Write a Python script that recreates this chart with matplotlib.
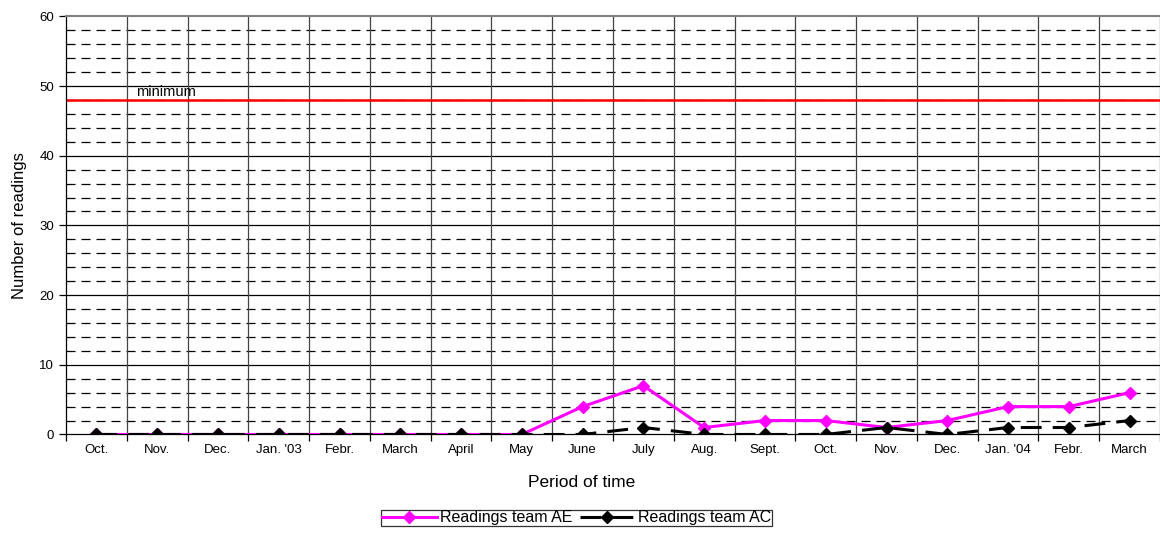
import numpy as np
import matplotlib
matplotlib.use('Agg')
import matplotlib.pyplot as plt
from matplotlib.ticker import MultipleLocator, FixedLocator

plt.rcParams['font.family'] = ['Liberation Sans', 'DejaVu Sans']
plt.rcParams['lines.scale_dashes'] = False

# Месяцы наблюдений
months = ['Oct.', 'Nov.', 'Dec.', "Jan. '03", 'Febr.', 'March', 'April', 'May',
          'June', 'July', 'Aug.', 'Sept.', 'Oct.', 'Nov.', 'Dec.', "Jan. '04",
          'Febr.', 'March']

# Число показаний по командам
readings_ae = [0, 0, 0, 0, 0, 0, 0, 0, 4, 7, 1, 2, 2, 1, 2, 4, 4, 6]
readings_ac = [0, 0, 0, 0, 0, 0, 0, 0, 0, 1, 0, 0, 0, 1, 0, 1, 1, 2]

minimum_level = 48

fig = plt.figure(figsize=(11.6, 5.49), dpi=100)
ax = fig.add_axes([0.0569, 0.2086, 0.9431, 0.7617])

x = np.arange(len(months))

# Сетка: основные линии каждые 10, пунктир каждые 2
for yv in range(2, 60, 2):
    if yv % 10 == 0:
        ax.axhline(yv, color='black', lw=0.9, zorder=1)
    else:
        ax.axhline(yv, color='black', lw=0.9, ls=(0, (6.5, 4.3)), zorder=1)
for xv in np.arange(0.5, len(months), 1.0):
    ax.axvline(xv, color='#444444', lw=0.9, zorder=1)

# Линия минимума
ax.axhline(minimum_level, color='#ff0000', lw=1.8, zorder=2)
ax.text(0.65, minimum_level + 0.2, 'minimum', fontsize=10.5, ha='left', va='bottom')

ax.plot(x, readings_ae, color='#ff00ff', lw=2.2, marker='D', markersize=6,
        label='Readings team AE', zorder=3)
ax.plot(x, readings_ac, color='black', lw=2.2, ls=(0, (15, 8)), marker='D',
        markersize=6, label='Readings team AC', zorder=4)

ax.set_xlim(-0.5, len(months) - 0.5)
ax.set_ylim(0, 60)
ax.yaxis.set_major_locator(MultipleLocator(10))
ax.tick_params(axis='y', labelsize=9.5, length=5, width=0.9, direction='out')

# Подписи месяцев по центру, засечки на границах
ax.xaxis.set_major_locator(FixedLocator(np.arange(-0.5, len(months), 1.0)))
ax.xaxis.set_minor_locator(FixedLocator(x))
ax.set_xticklabels([])
ax.set_xticklabels(months, minor=True)
ax.tick_params(axis='x', which='major', length=5, width=0.9, direction='out')
ax.tick_params(axis='x', which='minor', length=0, labelsize=9.5, pad=7)

ax.spines['right'].set_visible(False)
ax.spines['top'].set_color('#808080')
ax.spines['top'].set_linewidth(1.5)
ax.spines['left'].set_linewidth(0.9)
ax.spines['bottom'].set_linewidth(0.9)

ax.set_ylabel('Number of readings', fontsize=12)
ax.yaxis.set_label_coords(-0.036, 0.5)
ax.set_xlabel('Period of time', fontsize=12.5)
ax.xaxis.set_label_coords(0.471, -0.097)

leg = fig.legend(loc='center', bbox_to_anchor=(0.497, 0.0565), ncol=2,
                 fontsize=11.5, frameon=True, fancybox=False, handlelength=3.4,
                 handletextpad=0.2, columnspacing=0.5, borderpad=0.05,
                 borderaxespad=0)
leg.get_frame().set_edgecolor('black')
leg.get_frame().set_linewidth(0.9)

plt.savefig('out.png', dpi=100)
plt.close()
